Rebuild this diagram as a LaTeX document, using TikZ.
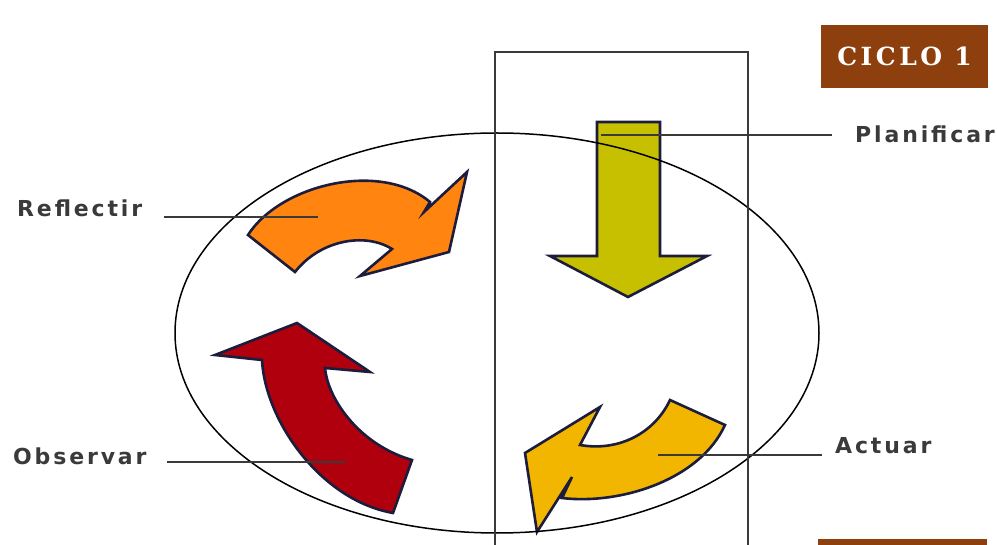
\documentclass[tikz,border=0pt]{standalone}
\usepackage{fontspec}
\usetikzlibrary{positioning}
\newfontfamily\lblfont[LetterSpace=13]{DejaVu Sans}
\newfontfamily\boxfont[LetterSpace=14]{DejaVu Serif}
\definecolor{plan}{HTML}{C6C000}
\definecolor{refl}{HTML}{FF8410}
\definecolor{obs}{HTML}{B0000E}
\definecolor{act}{HTML}{F2B600}
\definecolor{edge}{HTML}{1C1C3C}
\definecolor{brown}{HTML}{8E3F0E}
\definecolor{ink}{HTML}{3A3A3A}
\begin{document}
\begin{tikzpicture}[x=1pt, y=-1pt,
      lbl/.style={anchor=west, inner sep=0pt, text=ink, font=\lblfont\bfseries\fontsize{22}{26}\selectfont},
      shp/.style={draw=edge, line width=2.6pt, line join=miter},
      lead/.style={draw=ink, line width=1.8pt},
      frame/.style={draw=ink, line width=1.8pt},
      tag/.style={fill=brown, text=white, minimum width=167pt, minimum height=63pt, inner sep=0pt, font=\boxfont\bfseries\fontsize{25}{29}\selectfont}]
    \useasboundingbox (0,0) rectangle (997,545);
    \path[shp, fill=plan] (597,122) -- (660,122) -- (660,256) -- (707,256) -- (628,297) -- (550,256) -- (597,256) -- cycle;
    \path[shp, fill=refl] (295,272) -- (248,235) .. controls (280,185) and (380,160) .. (430,202) -- (424,212) -- (467,172) -- (449,252) -- (360,276) -- (392,249) .. controls (365,232) and (320,240) .. (295,272) -- cycle;
    \path[shp, fill=obs] (215,355) -- (297,323) -- (370,372) -- (325,368) .. controls (328,400) and (360,445) .. (412,460) -- (393,513) .. controls (320,500) and (265,420) .. (262,360) -- cycle;
    \path[shp, fill=act] (670,400) -- (725,425) .. controls (700,480) and (620,505) .. (562,498) -- (572,477) -- (537,532) -- (525,453) -- (600,407) -- (580,445) .. controls (620,452) and (655,432) .. (670,400) -- cycle;
    \draw[line width=1.5pt] (497,333) ellipse [x radius=322, y radius=200];
    \draw[frame] (495,545) -- (495,52) -- (748,52) -- (748,545);
    \node[tag] (ciclo) at (904.5,56.5) {CICLO 1};
    \fill[brown] (818,539) rectangle (987,545);
    \node[lbl] (lblPlan) at (855,134) {Planificar};
    \node[lbl] (lblRefl) at (17,208) {Reflectir};
    \node[lbl] (lblObs) at (13,456) {Observar};
    \node[lbl] (lblAct) at (835,446) {Actuar};
    \coordinate (aPlan) at (601,135);
    \coordinate (aRefl) at (318,217);
    \coordinate (aObs) at (345,462);
    \coordinate (aAct) at (658,455);
    \draw[lead] ([xshift=-23pt]lblPlan.west |- aPlan) -- (aPlan);
    \draw[lead] ([xshift=22pt]lblRefl.east |- aRefl) -- (aRefl);
    \draw[lead] ([xshift=20pt]lblObs.east |- aObs) -- (aObs);
    \draw[lead] ([xshift=-13pt]lblAct.west |- aAct) -- (aAct);
  \end{tikzpicture}
\end{document}
